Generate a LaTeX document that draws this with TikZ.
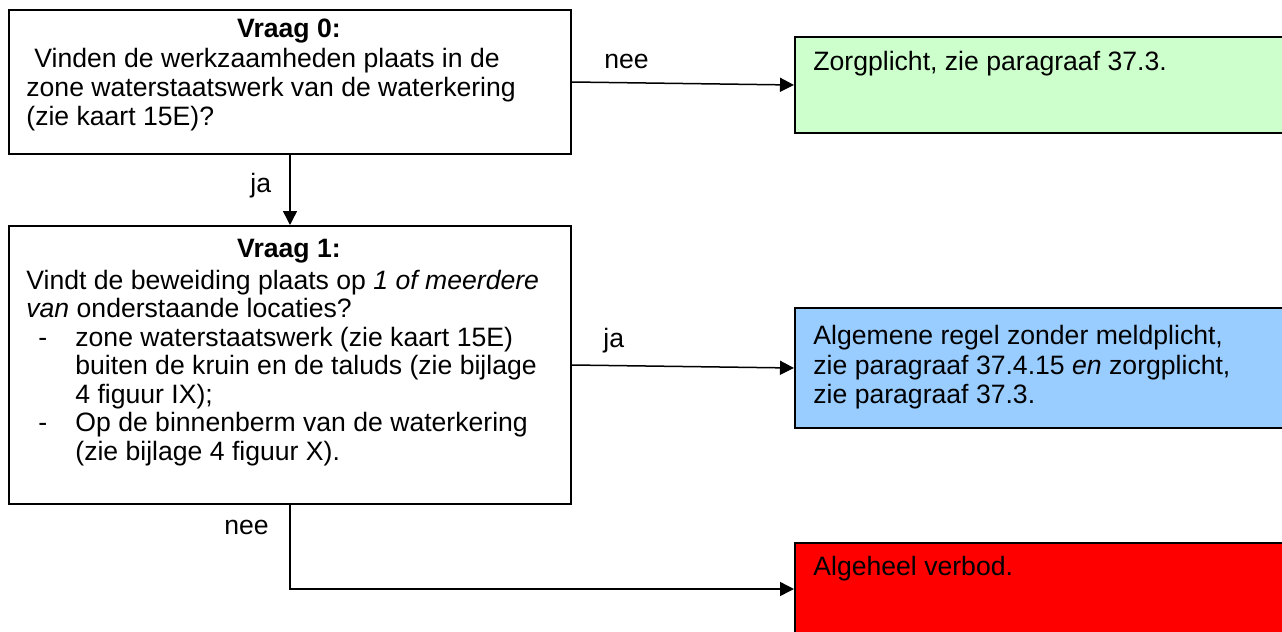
\documentclass[tikz,border=0pt]{standalone}
\usepackage{fontspec}
\setmainfont{Liberation Sans}
\usetikzlibrary{arrows.meta}
\definecolor{boxgreen}{HTML}{CCFFCC}
\definecolor{boxblue}{HTML}{99CCFF}
\definecolor{boxred}{HTML}{FF0000}
\newcommand\fsz{\fontsize{13.3pt}{14.25pt}\selectfont}
\tikzset{
  box/.style={draw=black, line width=1pt, rectangle, anchor=north west, inner sep=0pt},
  txt/.style={anchor=base west, inner sep=0pt, font=\fsz},
  ctxt/.style={anchor=base, inner sep=0pt, font=\fsz\bfseries},
  arr/.style={line width=0.75pt, -{Triangle[length=7pt,width=7pt]}},
}
\begin{document}
\begin{tikzpicture}[x=0.5pt,y=-0.5pt]
\useasboundingbox (0,0) rectangle (1282,632);
\clip (0,0) rectangle (1282,632);
% boxes
\node[box, minimum width=281pt, minimum height=72pt] (q0) at (8,9) {};
\node[box, minimum width=281pt, minimum height=139pt] (q1) at (8,225) {};
\node[box, fill=boxgreen, minimum width=253pt, minimum height=48pt] (g) at (794,36) {};
\node[box, fill=boxblue, minimum width=253pt, minimum height=60pt] (b) at (794,307) {};
\node[box, fill=boxred, minimum width=253pt, minimum height=46pt] (r) at (794,542) {};
% box 0 text
\node[ctxt] (t0h) at (289,37) {Vraag 0:};
\node[txt] (t0a) at (34,67) {Vinden de werkzaamheden plaats in de};
\node[txt] (t0b) at (26,96) {zone waterstaatswerk van de waterkering};
\node[txt] (t0c) at (26,125) {(zie kaart 15E)?};
% box 1 text
\node[ctxt] (t1h) at (289,257) {Vraag 1:};
\node[txt] (t1a) at (26,289) {Vindt de beweiding plaats op \textit{1 of meerdere}};
\node[txt] (t1b) at (26,317.5) {\textit{van} onderstaande locaties?};
\node[txt] (t1c) at (38,346) {-};
\node[txt] (t1d) at (75,346) {zone waterstaatswerk (zie kaart 15E)};
\node[txt] (t1e) at (75,374.5) {buiten de kruin en de taluds (zie bijlage};
\node[txt] (t1f) at (75,403) {4 figuur IX);};
\node[txt] (t1g) at (38,431.5) {-};
\node[txt] (t1h) at (75,431.5) {Op de binnenberm van de waterkering};
\node[txt] (t1i) at (75,460) {(zie bijlage 4 figuur X).};
% result texts
\node[txt] (tg) at (813,70) {Zorgplicht, zie paragraaf 37.3.};
\node[txt] (tb1) at (813,344) {Algemene regel zonder meldplicht,};
\node[txt] (tb2) at (813,374) {zie paragraaf 37.4.15 \textit{en} zorgplicht,};
\node[txt] (tb3) at (813,403) {zie paragraaf 37.3.};
\node[txt] (tr) at (813,575) {Algeheel verbod.};
% labels
\node[txt] (lnee1) at (604,68) {nee};
\node[txt] (lja1) at (250,192) {ja};
\node[txt] (lja2) at (603,347) {ja};
\node[txt] (lnee2) at (224,534) {nee};
% connectors
\draw[arr] (q0.south) -- (q1.north);
\draw[arr] (q0.east) -- (g.west);
\draw[arr] (q1.east) -- (b.west);
\draw[arr] (q1.south) |- (r.west);
\end{tikzpicture}
\end{document}
